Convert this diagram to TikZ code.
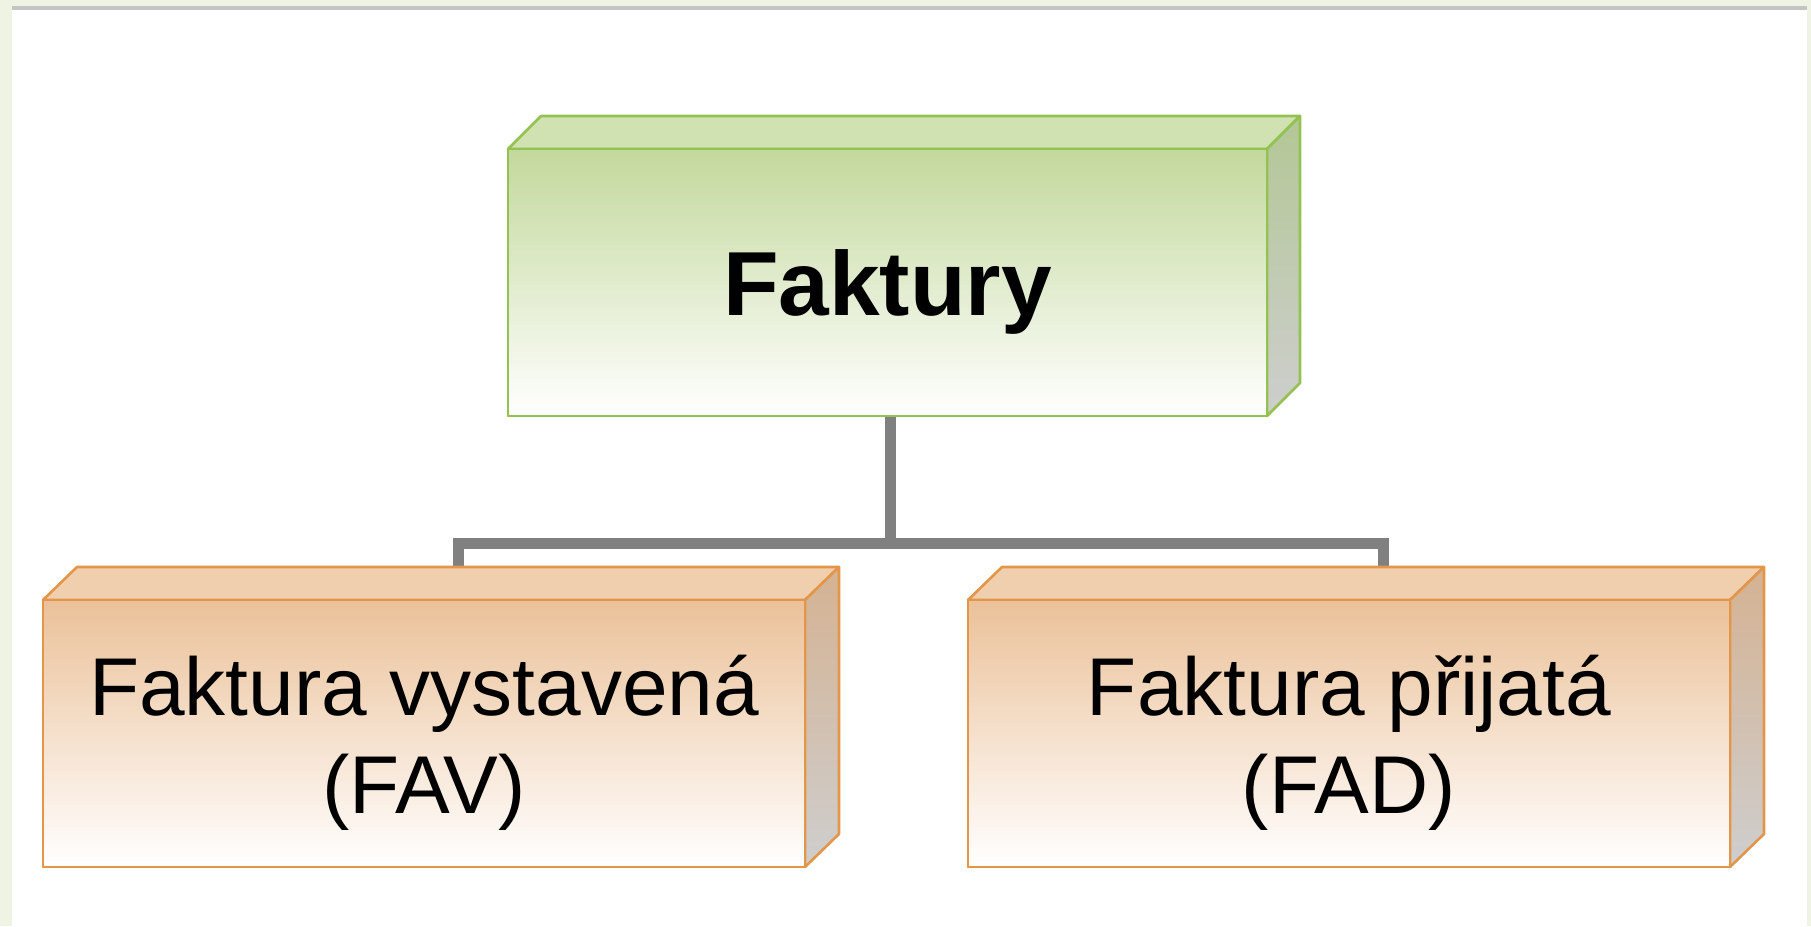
\documentclass[tikz,border=0pt]{standalone}
\usepackage{fontspec}
\setmainfont{Liberation Sans}
\usetikzlibrary{calc}

\definecolor{framegreen}{HTML}{EEF3E3}
\definecolor{framegray}{HTML}{C4C4C4}
\definecolor{greenborder}{HTML}{93C152}
\definecolor{greentop}{HTML}{C3D89C}
\definecolor{greenlid}{HTML}{D0E1B2}
\definecolor{greenside}{HTML}{B3C795}
\definecolor{orangeborder}{HTML}{E39649}
\definecolor{orangetop}{HTML}{EBC199}
\definecolor{orangelid}{HTML}{EFCFAE}
\definecolor{orangeside}{HTML}{D5B292}
\definecolor{sidegray}{HTML}{CECECE}
\definecolor{linkgray}{HTML}{808080}

\begin{document}
\begin{tikzpicture}[x=1pt,y=1pt,
  front/.style={rectangle, draw=#1border, line width=2.6, line join=round,
    top color=#1top, bottom color=white, inner sep=0pt, outer sep=0pt,
    minimum height=267},
  lid/.style={draw=#1border, fill=#1lid, line width=2.6, line join=round},
  side/.style={draw=#1border, top color=#1side, bottom color=sidegray,
    line width=2.6, line join=round},
  link/.style={draw=linkgray, line width=11, line cap=butt, line join=miter},
  caption/.style={font=\fontsize{82}{98}\selectfont, align=center, inner sep=0pt},
  title/.style={font=\fontsize{91}{108}\selectfont\bfseries, inner sep=0pt}]

\useasboundingbox (0,0) rectangle (1811,926);

% page frame
\fill[framegreen] (0,0) rectangle (1811,926);
\fill[white] (12,0) rectangle (1807,916);
\fill[framegray] (12,916) rectangle (1807,920);

% front faces of the three blocks
\path (887.5,643.5) node[front=green, minimum width=759] (T) {};
\path (424,192.5) node[front=orange, minimum width=762] (L) {};
\path (1349,192.5) node[front=orange, minimum width=762] (R) {};

% connectors (drawn under the block lids)
\coordinate (bus) at (0,382);
\coordinate (Tb) at ($(T.south)+(2.5,0)$);
\coordinate (Lb) at ($(L.north)+(34,33)$);
\coordinate (Rb) at ($(R.north)+(34,33)$);
\draw[link] (Tb) -- (Tb |- bus);
\draw[link] (Lb) -- (Lb |- bus) -- (Rb |- bus) -- (Rb);

% lids and right-hand sides of the blocks
\foreach \b/\c/\dx in {T/green/33, L/orange/34, R/orange/34}{
  \path[lid=\c] (\b.north west) -- ++(\dx,33) -- ($(\b.north east)+(\dx,33)$)
    -- (\b.north east) -- cycle;
  \path[side=\c] (\b.north east) -- ++(\dx,33) -- ($(\b.south east)+(\dx,33)$)
    -- (\b.south east) -- cycle;
}
% redraw the front faces on top so their outlines stay crisp
\path (887.5,643.5) node[front=green, minimum width=759] {};
\path (424,192.5) node[front=orange, minimum width=762] {};
\path (1349,192.5) node[front=orange, minimum width=762] {};

% labels (base = baseline of the last line)
\node[title, anchor=base] (Ttext) at ($(T.center)+(0,-33.5)$) {Faktury};
\node[caption, anchor=base] (Ltext) at ($(L.center)+(0,-79.5)$) {Faktura vystavená\\(FAV)};
\node[caption, anchor=base] (Rtext) at ($(R.center)+(0,-79.5)$) {Faktura přijatá\\(FAD)};
\end{tikzpicture}
\end{document}
